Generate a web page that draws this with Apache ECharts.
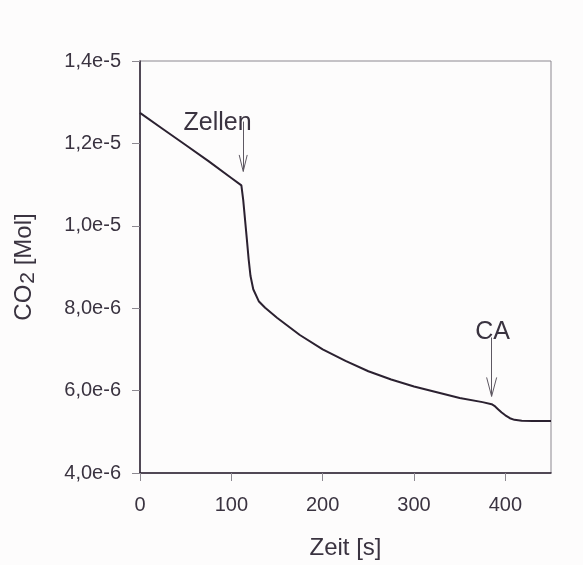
<!DOCTYPE html>
<html>
<head>
<meta charset="utf-8">
<script src="https://cdn.jsdelivr.net/npm/echarts@6/dist/echarts.min.js"></script>
<style>
    html, body { margin: 0; padding: 0; background: #fdfcfc; }
    #chart { width: 583px; height: 565px; }
</style>
</head>
<body>
<div id="chart"></div>
<script>
    // Zeit [s]
    var times = [0, 25, 50, 75, 100, 111, 113, 115, 117, 119, 121, 124, 130, 137, 150,
        175, 200, 225, 250, 275, 300, 325, 350, 375, 385, 388, 392, 396, 400, 405, 410, 418, 430, 450];
    // CO2 [Mol]
    var co2 = [12.74e-6, 12.35e-6, 11.96e-6, 11.57e-6, 11.16e-6, 10.98e-6, 10.63e-6, 10.15e-6, 9.67e-6,
        9.18e-6, 8.78e-6, 8.46e-6, 8.17e-6, 8.01e-6, 7.77e-6, 7.35e-6, 7.00e-6, 6.72e-6, 6.47e-6,
        6.27e-6, 6.10e-6, 5.96e-6, 5.82e-6, 5.72e-6, 5.67e-6, 5.63e-6, 5.55e-6, 5.47e-6, 5.40e-6,
        5.33e-6, 5.29e-6, 5.27e-6, 5.26e-6, 5.26e-6];
    var xTicks = [0, 100, 200, 300, 400];
    var yTicks = [4e-6, 6e-6, 8e-6, 1e-5, 1.2e-5, 1.4e-5];

    // annotations (data coords)
    var labels = [
        {text: 'Zellen', x: 85, y: 12.5e-6},
        {text: 'CA', x: 386, y: 7.41e-6}
    ];
    var arrows = [
        {x: 113, top: 12.53e-6, tip: 11.32e-6, head: 11.72e-6, half: 4.4},
        {x: 385, top: 7.29e-6, tip: 5.86e-6, head: 6.32e-6, half: 5.5}
    ];

    var dark = '#2b2130';
    var textColor = '#3a3340';
    var grey = '#8c8890';
    var font = '"Liberation Sans", Arial, sans-serif';

    var arrowLines = [];
    arrows.forEach(function (a) {
        arrowLines.push([{coord: [a.x, a.top]}, {coord: [a.x, a.tip]}]);
        arrowLines.push([{coord: [a.x - a.half, a.head]}, {coord: [a.x, a.tip]}]);
        arrowLines.push([{coord: [a.x + a.half, a.head]}, {coord: [a.x, a.tip]}]);
    });

    var chart = echarts.init(document.getElementById('chart'));
    chart.setOption({
        backgroundColor: '#fdfcfc',
        animation: false,
        grid: {
            left: 140, top: 61, width: 411, height: 413,
            show: true,
            borderColor: grey,
            borderWidth: 1
        },
        xAxis: {
            type: 'value',
            min: 0, max: 450, interval: 100,
            name: 'Zeit [s]',
            nameLocation: 'middle',
            nameGap: 63,
            nameTextStyle: {fontFamily: font, fontSize: 24, color: textColor},
            axisLine: {show: true, lineStyle: {color: dark, width: 1.5}},
            axisTick: {show: true, length: 8, lineStyle: {color: grey}},
            splitLine: {show: false},
            axisLabel: {
                margin: 22, fontFamily: font, fontSize: 20, color: textColor,
                showMaxLabel: false,
                formatter: function (v) { return xTicks.indexOf(v) >= 0 ? String(v) : ''; }
            }
        },
        yAxis: {
            type: 'value',
            min: 4e-6, max: 1.4e-5, interval: 2e-6,
            name: 'CO{sub|2} [Mol]',
            nameLocation: 'middle',
            nameGap: 101,
            nameRotate: 90,
            nameTextStyle: {
                fontFamily: font, fontSize: 24, color: textColor,
                rich: {
                    sub: {fontFamily: font, fontSize: 21, color: textColor, padding: [9, 0, 0, 1]}
                }
            },
            axisLine: {show: true, lineStyle: {color: dark, width: 1.5}},
            axisTick: {show: true, length: 8, lineStyle: {color: grey}},
            splitLine: {show: false},
            axisLabel: {
                margin: 19, fontFamily: font, fontSize: 20, color: textColor,
                formatter: function (v) {
                    var best = yTicks.reduce(function (p, t) {
                        return Math.abs(t - v) < Math.abs(p - v) ? t : p;
                    });
                    return best.toExponential(1).replace('.', ',');
                }
            }
        },
        series: [
            {
                type: 'line',
                data: times.map(function (t, i) { return [t, co2[i]]; }),
                showSymbol: false,
                symbol: 'none',
                lineStyle: {color: dark, width: 2},
                markLine: {
                    silent: true,
                    symbol: ['none', 'none'],
                    label: {show: false},
                    lineStyle: {type: 'solid', color: '#5e5862', width: 1},
                    data: arrowLines
                },
                markPoint: {
                    silent: true,
                    symbolSize: 0,
                    data: labels.map(function (l) {
                        return {
                            coord: [l.x, l.y],
                            label: {
                                show: true, position: 'inside', formatter: l.text,
                                fontFamily: font, fontSize: 25, color: textColor
                            }
                        };
                    })
                }
            }
        ]
    });
</script>
</body>
</html>
